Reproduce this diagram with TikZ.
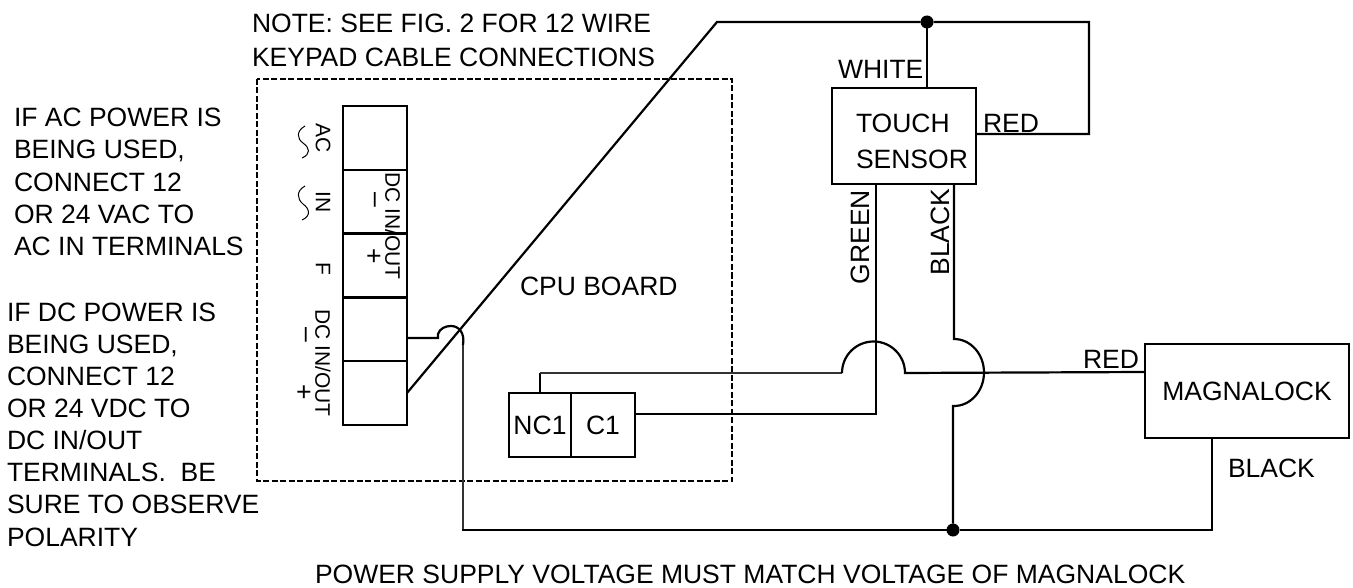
\documentclass[tikz,border=0pt]{standalone}
\usepackage{fontspec}
\setmainfont{Liberation Sans}
\newcommand{\lbl}{\fontsize{26.5}{30}\selectfont}
\newcommand{\vlbl}{\fontsize{21}{26}\selectfont}
\tikzset{
 wire/.style={line width=2.2pt,black},
 thin wire/.style={line width=1.3pt,black!80},
 term/.style={draw,line width=2.2pt,minimum width=64pt,minimum height=64pt,inner sep=0,outer sep=0},
 box/.style={draw,line width=2.2pt,inner sep=0,outer sep=0,font=\lbl},
 txt/.style={inner sep=0,outer sep=0,font=\lbl,anchor=base west},
 vtxt/.style={inner sep=0,outer sep=0,font=\vlbl,rotate=-90},
 sign/.style={inner sep=0,outer sep=0,font=\lbl,rotate=-90},
 utxt/.style={inner sep=0,outer sep=0,font=\lbl,rotate=90},
 junction/.style={circle,fill=black,minimum size=13pt,inner sep=0,outer sep=0},
 tildeline/.style={line width=1pt},
}
\begin{document}
\begin{tikzpicture}[x=1pt,y=-1pt]
\useasboundingbox (0,0) rectangle (1353,588);
\draw[line width=2.8pt,dash pattern=on 6pt off 2.5pt] (257,79) rectangle (732,481);
% terminals
\node[term] (t1) at (375,138) {};
\node[term] (t2) at (375,202) {};
\node[term] (t3) at (375,265.5) {};
\node[term] (t4) at (375,329) {};
\node[term] (t5) at (375,393) {};
\node[box,minimum width=62pt,minimum height=64pt] (nc) at (540,425) {NC1};
\node[box,minimum width=64pt,minimum height=64pt] (c1) at (603,425) {C1};
\node[box,minimum width=144pt,minimum height=96pt] (ts) at (904,136) {};
\node[box,minimum width=204pt,minimum height=94pt] (ml) at (1247,391) {MAGNALOCK};
\node[junction] (j1) at (927,22) {};
\node[junction] (j2) at (953,530) {};
\coordinate (a) at (717,22);
\coordinate (b) at (1089,22);
\coordinate (c) at (1089,134);
\coordinate (gb) at (876,414);
\coordinate (hop) at (842,373);
\draw[wire] (t5.east) -- (a) -- (j1) -- (b) -- (c) -- (c -| ts.east);
\draw[wire] (j1) -- (j1 |- ts.north);
\draw[wire] (407,338) -- (438,338) -- (438,334) .. controls (440,328) and (446,326) .. (451,326) .. controls (459,326) and (465,333) .. (463,345);
\draw[thin wire] (463,345) -- (463,530);
\draw[wire] (462,530) -- (j2) -- (1212,530) -- (1212,438);
% green
\draw[wire] (876,184) -- (gb) -- (gb -| c1.east);
% thin nc wire
\draw[wire] (nc.north) -- (540,373);
\draw[thin wire] (540,373) -- (hop);
\draw[wire] (hop) arc[start angle=180,end angle=360,radius=31.5] -- (1145,372);
% black
\draw[wire] (954,184) -- (954,339) arc[start angle=-90,end angle=90,x radius=30,y radius=33.5] -- (953,406) -- (j2);
% labels
\node[txt] at (252,33) {NOTE: SEE FIG. 2 FOR 12 WIRE};
\node[txt] at (252,67) {KEYPAD CABLE CONNECTIONS};
\node[txt] at (14,127) {IF AC POWER IS};
\node[txt] at (14,159) {BEING USED,};
\node[txt] at (14,192) {CONNECT 12};
\node[txt] at (14,224) {OR 24 VAC TO};
\node[txt] at (14,256) {AC IN TERMINALS};
\node[txt] at (7,321) {IF DC POWER IS};
\node[txt] at (7,353) {BEING USED,};
\node[txt] at (7,385) {CONNECT 12};
\node[txt] at (7,417) {OR 24 VDC TO};
\node[txt] at (7,449) {DC IN/OUT};
\node[txt] at (7,481) {TERMINALS.\ \ BE};
\node[txt] at (7,513) {SURE TO OBSERVE};
\node[txt] at (7,546) {POLARITY};
\node[txt] at (520,295) {CPU BOARD};
\node[txt] at (838,79) {WHITE};
\node[txt] at (856,133) {TOUCH};
\node[txt] at (856,169) {SENSOR};
\node[txt] at (983,133) {RED};
\node[txt] at (1083,368) {RED};
\node[txt] at (1228,477) {BLACK};
\node[txt] at (315,583) {POWER SUPPLY VOLTAGE MUST MATCH VOLTAGE OF MAGNALOCK};
\node[vtxt] at (323,138) {AC};
\node[vtxt] at (323,202) {IN};
\node[vtxt] at (323,269) {F};
\node[vtxt] at (323,363) {DC IN/OUT};
\node[vtxt] at (393,226) {DC IN/OUT};
\node[sign] at (372,200) {–};
\node[sign] at (373,256) {+};
\node[sign] at (303,335) {–};
\node[sign] at (303,392) {+};
\node[utxt] at (860,237) {GREEN};
\node[utxt] at (940,232) {BLACK};
% tildes
\draw[tildeline] (305,126) .. controls (296,131) and (297,139) .. (303,143) .. controls (310,148) and (311,154) .. (302,158);
\draw[tildeline] (305,186) .. controls (296,191) and (297,199) .. (303,204) .. controls (310,209) and (311,216) .. (302,220);
\end{tikzpicture}
\end{document}
